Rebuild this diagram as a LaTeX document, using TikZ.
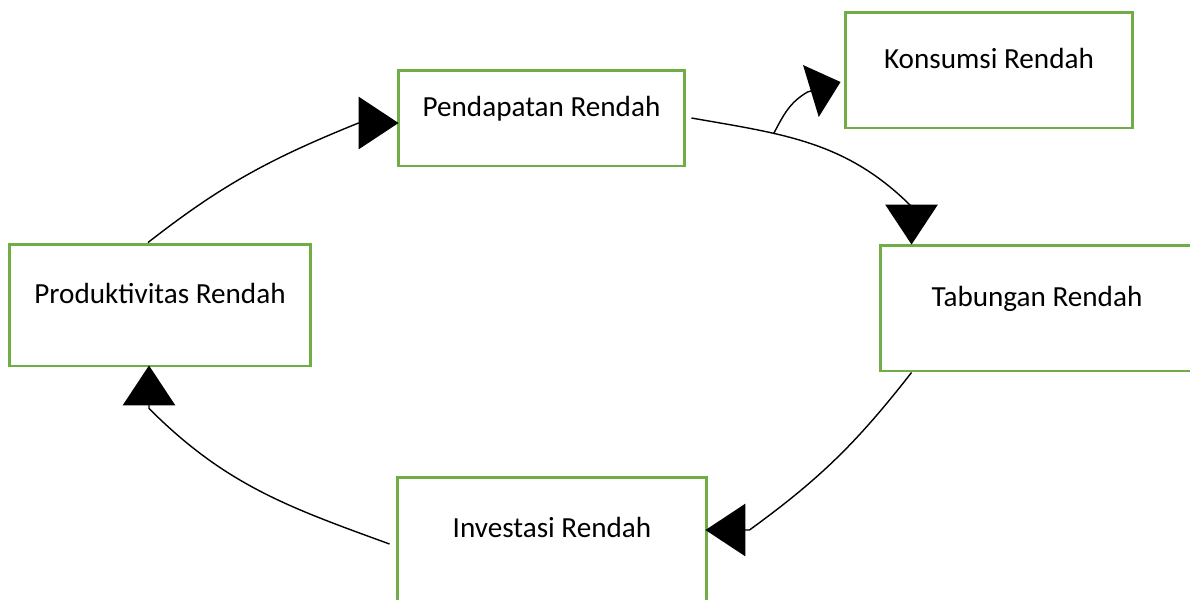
\documentclass[tikz,border=0pt]{standalone}
\usepackage{fontspec}
\setmainfont{Carlito}
\usetikzlibrary{arrows.meta,positioning,calc}
\definecolor{vcGreen}{HTML}{70AD47}
\tikzset{
    box/.style={rectangle,draw=vcGreen,line width=1.7pt,fill=white,text height=0.4cm,text depth=0.48cm,font=\fontsize{16.6}{20}\selectfont},
    link/.style={-{Triangle[length=0.8cm,width=1.05cm]},line width=0.8pt,black},
    shortlink/.style={link,-{Triangle[length=0.62cm,width=1.08cm]}}
}

\begin{document}
\begin{tikzpicture}[x=0.02cm,y=0.02cm]
    \useasboundingbox (0,0) rectangle (1190,-599);

    % Boxes of the circle
    \node[box,minimum width=5.74cm,minimum height=1.92cm] (pend) at (541.5,-118) {Pendapatan Rendah};
    \node[box,minimum width=5.76cm,minimum height=2.32cm] (kons) at (989,-70) {Konsumsi Rendah};
    \node[box,minimum width=6.28cm,minimum height=2.52cm] (tab) at (1037,-308) {Tabungan Rendah};
    \node[box,minimum width=6.2cm,minimum height=2.48cm] (inv) at (552,-539) {Investasi Rendah};
    \node[box,minimum width=6.04cm,minimum height=2.44cm] (prod) at (160,-305) {Produktivitas Rendah};

    % Tips of the arrows
    \coordinate (pendIn) at ($(pend.west)+(2,-5)$);
    \coordinate (tabIn) at ($(tab.north west)+(33,-1)$);
    \coordinate (konsIn) at ($(kons.west)+(-3,-12)$);
    \coordinate (invIn) at ($(inv.east)+(-3,9)$);
    \coordinate (prodIn) at ($(prod.south)+(-11,2)$);

    % Arrows
    \draw[link] ($(prod.north)+(-12,0)$) to[out=38,in=-158] ($(pendIn)+(-40,0)$) -- (pendIn);
    \draw[link] ($(pend.east)+(5,0)$) to[out=-10,in=135] coordinate[pos=0.33] (split) ($(tabIn)+(0,38)$) -- (tabIn);
    \draw[shortlink] (split) to[out=62,in=210] ($(konsIn)+(-33,-10)$) -- (konsIn);
    \draw[link] ($(tab.south west)+(33,0)$) to[out=-128,in=36] ($(invIn)+(44,0)$) -- (invIn);
    \draw[link] ($(inv.west)+(-6,-5)$) to[out=160,in=-45] ($(prodIn)+(0,-43)$) -- (prodIn);
\end{tikzpicture}
\end{document}
